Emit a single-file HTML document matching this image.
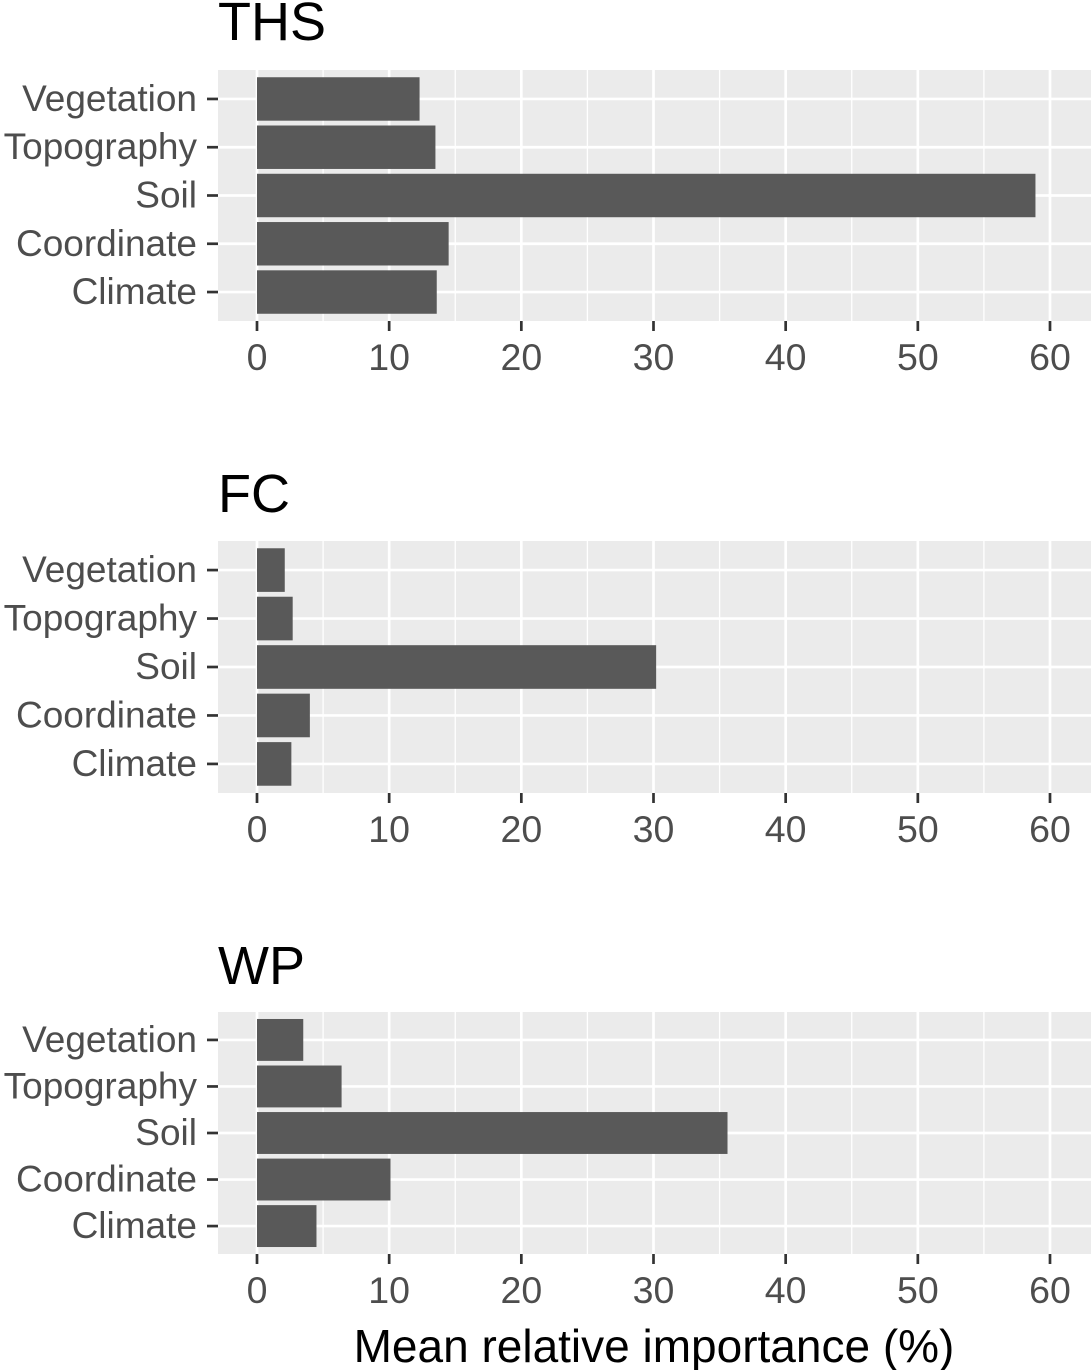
<!DOCTYPE html>
<html><head><meta charset="utf-8">
<style>
html,body{margin:0;padding:0;background:#fff;}
svg{display:block;font-family:"Liberation Sans",Arial,sans-serif;}
</style></head>
<body>
<svg id="chart" width="1091" height="1370" viewBox="0 0 1091 1370" xmlns="http://www.w3.org/2000/svg"></svg>
<script>
const categories = ["Vegetation","Topography","Soil","Coordinate","Climate"];
const panelTitles = ["THS","FC","WP"];
const thsValues = [12.3,13.5,58.9,14.5,13.6];
const fcValues = [2.1,2.7,30.2,4.0,2.6];
const wpValues = [3.5,6.4,35.6,10.1,4.5];
const xTicks = [0,10,20,30,40,50,60];
const xMinor = [5,15,25,35,45,55];

const NS="http://www.w3.org/2000/svg";
const svg=document.getElementById('chart');
function mk(tag,attrs,parent){const e=document.createElementNS(NS,tag);for(const k in attrs)e.setAttribute(k,attrs[k]);(parent||svg).appendChild(e);return e;}
const x0=257, xScale=(1050-257)/60;
function xs(v){return x0+v*xScale;}
const panels=[{top:70,bottom:321,title:40,vals:thsValues},{top:541,bottom:793,title:512,vals:fcValues},{top:1012,bottom:1254,title:984,vals:wpValues}];
panels.forEach((p,pi)=>{
  const g=mk('g',{});
  
  
  const bg=mk('rect',{x:218,y:p.top,width:873,height:p.bottom-p.top,fill:'#ebebeb'},g);
  
  
  xMinor.forEach(v=>{mk('line',{x1:xs(v),x2:xs(v),y1:p.top,y2:p.bottom,stroke:'#fff','stroke-width':1.3},g);});
  xTicks.forEach(v=>{mk('line',{x1:xs(v),x2:xs(v),y1:p.top,y2:p.bottom,stroke:'#fff','stroke-width':2.7},g);});
  const band=(p.bottom-p.top)/5.2;
  const bh=band*0.9;
  categories.forEach((c,i)=>{
    const cy=p.top+band*(0.6+i);
    mk('line',{x1:218,x2:xs(60)+60,y1:cy,y2:cy,stroke:'#fff','stroke-width':2.7},g);
  });
  categories.forEach((c,i)=>{
    const cy=p.top+band*(0.6+i);
    const b=mk('rect',{x:xs(0),y:cy-bh/2,width:xs(p.vals[i])-xs(0),height:bh,fill:'#595959'},g);
    
    
    mk('line',{x1:207,x2:218,y1:cy,y2:cy,stroke:'#333','stroke-width':2.7},g);
    const t=mk('text',{x:197,y:cy+12,'text-anchor':'end','font-size':37,fill:'#4d4d4d'},g);
    t.textContent=c;
    
    
  });
  xTicks.forEach(v=>{
    mk('line',{x1:xs(v),x2:xs(v),y1:p.bottom,y2:p.bottom+10,stroke:'#333','stroke-width':2.7},g);
    const t=mk('text',{x:xs(v),y:p.bottom+49,'text-anchor':'middle','font-size':37.5,fill:'#4d4d4d'},g);
    t.textContent=v;
    
    
  });
  const tt=mk('text',{x:218,y:p.title,'font-size':54,fill:'#000'},g);
  tt.textContent=panelTitles[pi];
  
  
});
const at=mk('text',{x:654,y:1362,'text-anchor':'middle','font-size':46,fill:'#000'});
at.textContent='Mean relative importance (%)';


</script>
</body></html>
